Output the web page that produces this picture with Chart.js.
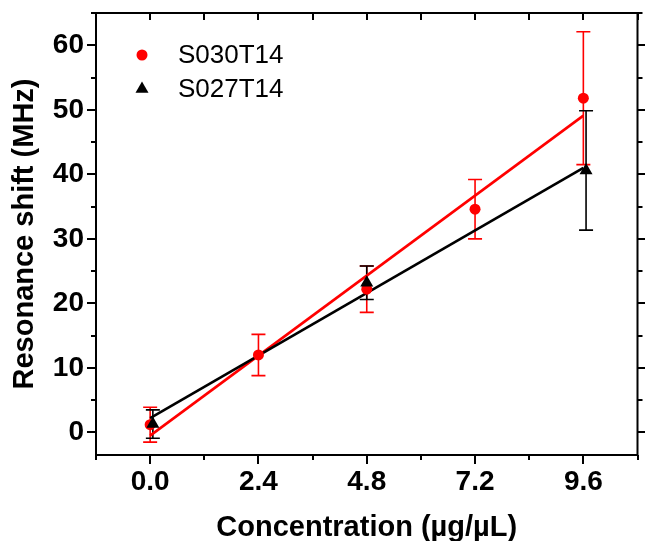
<!DOCTYPE html>
<html><head><meta charset="utf-8">
<script src="https://cdn.jsdelivr.net/npm/chart.js@4.4.0/dist/chart.umd.min.js"></script>
<style>html,body{margin:0;padding:0;background:#fff;overflow:hidden}#wrap{width:645px;height:541px;position:relative}</style>
</head><body><div id="wrap"><canvas id="c" width="645" height="541"></canvas></div>
<script>
// ---- data ----
const concentrations = [0, 2.4, 4.8, 7.2, 9.6];
const s030Values = [1.2, 12.0, 22.2, 34.6, 51.8];
const s030Errors = [2.7, 3.2, 3.6, 4.6, 10.3];
const s027X = [0.06, 4.8, 9.66];
const s027Values = [1.3, 23.2, 40.6];
const s027Errors = [2.2, 2.6, 9.25];
const fitX = [0, 9.6];
const s030Fit = [-0.5, 49.1];
const s027Fit = [2.2, 41.0];
const seriesNames = ['S030T14', 'S027T14'];
const xTickLabels = [0, 2.4, 4.8, 7.2, 9.6];
const xMinorTicks = [-1.2, 1.2, 3.6, 6.0, 8.4, 10.8];
const yTickLabels = [0, 10, 20, 30, 40, 50, 60];
const yMinorTicks = [5, 15, 25, 35, 45, 55, 65];
const xTitle = 'Concentration (\u00b5g/\u00b5L)';
const yTitle = 'Resonance shift (MHz)';

const FONT = "'Liberation Sans', Arial, sans-serif";
const RED = '#ff0000', BLACK = '#000000';

const pts = (xs, ys) => xs.map((v, i) => ({x: v, y: ys[i]}));

const errorBarPlugin = {
  id: 'errorBars',
  beforeDatasetsDraw(chart) {
    const {ctx, scales: {x, y}} = chart;
    chart.data.datasets.forEach(ds => {
      if (!ds.errors) return;
      ctx.save();
      ctx.strokeStyle = ds.borderColor;
      ctx.lineWidth = 1.6;
      ds.data.forEach((p, j) => {
        const e = ds.errors[j];
        const px = x.getPixelForValue(p.x);
        const t = y.getPixelForValue(p.y + e), b = y.getPixelForValue(p.y - e);
        ctx.beginPath();
        ctx.moveTo(px, t); ctx.lineTo(px, b);
        ctx.moveTo(px - 7, t); ctx.lineTo(px + 7, t);
        ctx.moveTo(px - 7, b); ctx.lineTo(px + 7, b);
        ctx.stroke();
      });
      ctx.restore();
    });
  }
};

const framePlugin = {
  id: 'frame',
  afterDraw(chart) {
    const {ctx, chartArea: a, scales: {x, y}} = chart;
    ctx.save();
    ctx.strokeStyle = BLACK; ctx.lineWidth = 2;
    ctx.beginPath();
    ctx.moveTo(a.left - 1, a.top); ctx.lineTo(a.right + 1, a.top);
    ctx.moveTo(a.right, a.top); ctx.lineTo(a.right, a.bottom + 1);
    const xt = (v, len, topLen) => {
      const px = Math.round(x.getPixelForValue(v));
      ctx.moveTo(px, a.bottom); ctx.lineTo(px, a.bottom + len);
      ctx.moveTo(px, a.top); ctx.lineTo(px, a.top + topLen);
    };
    xTickLabels.forEach(v => xt(v, 9, 7));
    xMinorTicks.forEach(v => xt(v, 5, 7));
    const yt = (v, len) => {
      const py = Math.round(y.getPixelForValue(v));
      ctx.moveTo(a.left, py); ctx.lineTo(a.left - len, py);
      ctx.moveTo(a.right, py); ctx.lineTo(a.right + len, py);
    };
    yTickLabels.forEach(v => yt(v, 9));
    yMinorTicks.forEach(v => yt(v, 5));
    ctx.stroke();
    ctx.restore();
  }
};

const legendPlugin = {
  id: 'cornerLegend',
  afterDraw(chart) {
    const {ctx, chartArea: a} = chart;
    const entries = [chart.data.datasets[0], chart.data.datasets[1]];
    ctx.save();
    ctx.font = '26px ' + FONT;
    ctx.textBaseline = 'middle';
    ctx.textAlign = 'left';
    entries.forEach((ds, i) => {
      const cy = a.top + 42 + i * 34;
      const cx = a.left + 46;
      ctx.fillStyle = ds.backgroundColor;
      ctx.strokeStyle = ds.backgroundColor;
      Chart.helpers.drawPoint(ctx, {pointStyle: ds.pointStyle, radius: ds.pointRadius, borderWidth: 0, rotation: 0}, cx, cy);
      ctx.fillStyle = BLACK;
      ctx.fillText(ds.label, a.left + 82, cy + 1);
    });
    ctx.restore();
  }
};

new Chart(document.getElementById('c'), {
  type: 'scatter',
  data: {
    datasets: [
      {label: seriesNames[0], data: pts(concentrations, s030Values), errors: s030Errors,
       pointStyle: 'circle', pointRadius: 5.5, pointHoverRadius: 5.5, backgroundColor: RED, borderColor: RED, borderWidth: 0, order: 1},
      {label: seriesNames[1], data: pts(s027X, s027Values), errors: s027Errors,
       pointStyle: 'triangle', pointRadius: 7.5, pointHoverRadius: 7.5, backgroundColor: BLACK, borderColor: BLACK, borderWidth: 0, order: 0},
      {type: 'line', label: 'fit1', data: pts(fitX, s030Fit), borderColor: RED, borderWidth: 2.6, pointRadius: 0, fill: false, order: 3},
      {type: 'line', label: 'fit2', data: pts(fitX, s027Fit), borderColor: BLACK, borderWidth: 2.6, pointRadius: 0, fill: false, order: 2}
    ]
  },
  options: {
    responsive: false,
    animation: false,
    devicePixelRatio: 1,
    layout: {padding: {top: 13, right: 5, left: 0, bottom: 0}},
    plugins: {legend: {display: false}, tooltip: {enabled: false}},
    scales: {
      x: {
        type: 'linear', min: -1.2, max: 10.8,
        afterBuildTicks: s => { s.ticks = xTickLabels.map(v => ({value: v})); },
        afterFit: s => { s.height = 86; s.paddingLeft = 0; s.paddingRight = 0; },
        grid: {display: false, drawTicks: false},
        border: {display: true, color: BLACK, width: 2},
        ticks: {color: BLACK, padding: 10, maxRotation: 0, autoSkip: false,
                font: {family: FONT, size: 28, weight: 'bold'}, callback: v => Number(v).toFixed(1)},
        title: {display: true, text: xTitle, color: BLACK, padding: {top: 0, bottom: -4},
                font: {family: FONT, size: 29, weight: 'bold'}}
      },
      y: {
        type: 'linear', min: -3.5, max: 65,
        afterBuildTicks: s => { s.ticks = yTickLabels.map(v => ({value: v})); },
        afterFit: s => { s.width = 96; s.paddingTop = 0; s.paddingBottom = 0; },
        grid: {display: false, drawTicks: false},
        border: {display: true, color: BLACK, width: 2},
        ticks: {color: BLACK, padding: 12, autoSkip: false,
                font: {family: FONT, size: 28, weight: 'bold'}, callback: v => String(v)},
        title: {display: true, text: yTitle, color: BLACK, padding: {top: 8, bottom: 0},
                font: {family: FONT, size: 29, weight: 'bold'}}
      }
    }
  },
  plugins: [errorBarPlugin, framePlugin, legendPlugin]
});
</script>
</body></html>
